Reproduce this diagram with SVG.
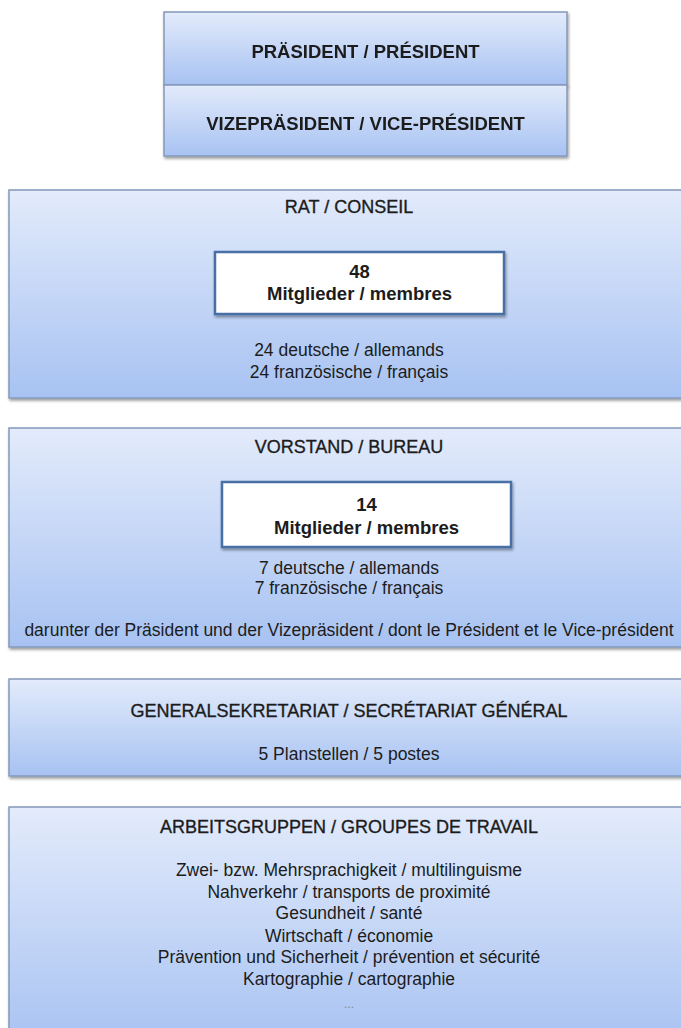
<svg xmlns="http://www.w3.org/2000/svg" width="681" height="1028" viewBox="0 0 681 1028">
<defs>
<linearGradient id="blue" x1="0" y1="0" x2="0" y2="1">
<stop offset="0" stop-color="#e3ebfb"/>
<stop offset="1" stop-color="#a7c2f2"/>
</linearGradient>
<filter id="sh" x="-5%" y="-5%" width="110%" height="120%">
<feGaussianBlur in="SourceAlpha" stdDeviation="1.5"/>
<feOffset dx="1" dy="2"/>
<feComponentTransfer><feFuncA type="linear" slope="0.4"/></feComponentTransfer>
<feMerge><feMergeNode/><feMergeNode in="SourceGraphic"/></feMerge>
</filter>
</defs>
<style>
.box{fill:url(#blue);stroke:#8499bb;stroke-width:1.5}
.inner{fill:#ffffff;stroke:#4a6fa5;stroke-width:2.5}
text{font-family:"Liberation Sans",Arial,sans-serif;fill:#1c1c1c;text-anchor:middle}
.b{font-weight:bold;font-size:18.5px}
.t{font-size:18px;stroke:#1c1c1c;stroke-width:0.35}
.n{font-size:17.5px}
.dots{font-size:12px;fill:#888888}
</style>
<rect width="681" height="1028" fill="#ffffff"/>
<g id="connectors"/>
<g id="president" filter="url(#sh)">
<rect class="box" x="164" y="12" width="403" height="73"/>
<text class="b" x="365.5" y="58">PRÄSIDENT / PRÉSIDENT</text>
</g>
<g id="vicepresident" filter="url(#sh)">
<rect class="box" x="164" y="85" width="403" height="71"/>
<text class="b" x="365.5" y="130">VIZEPRÄSIDENT / VICE-PRÉSIDENT</text>
</g>
<g id="rat">
<rect class="box" x="9" y="190" width="680" height="208" filter="url(#sh)"/>
<text class="t" x="349" y="213">RAT / CONSEIL</text>
<rect class="inner" x="215" y="252" width="289" height="62" filter="url(#sh)"/>
<text class="b" x="359.5" y="278">48</text>
<text class="b" x="359.5" y="300">Mitglieder / membres</text>
<text class="n" x="349" y="356">24 deutsche / allemands</text>
<text class="n" x="349" y="378">24 französische / français</text>
</g>
<g id="vorstand">
<rect class="box" x="9" y="428" width="680" height="219" filter="url(#sh)"/>
<text class="t" x="349" y="453">VORSTAND / BUREAU</text>
<rect class="inner" x="222" y="482" width="289" height="65" filter="url(#sh)"/>
<text class="b" x="366.5" y="511">14</text>
<text class="b" x="366.5" y="534">Mitglieder / membres</text>
<text class="n" x="349" y="574">7 deutsche / allemands</text>
<text class="n" x="349" y="594">7 französische / français</text>
<text class="n" x="349" y="636">darunter der Präsident und der Vizepräsident / dont le Président et le Vice-président</text>
</g>
<g id="generalsekretariat">
<rect class="box" x="9" y="679" width="680" height="97" filter="url(#sh)"/>
<text class="t" x="349" y="717">GENERALSEKRETARIAT / SECRÉTARIAT GÉNÉRAL</text>
<text class="n" x="349" y="760">5 Planstellen / 5 postes</text>
</g>
<g id="arbeitsgruppen">
<rect class="box" x="9" y="807" width="680" height="240" filter="url(#sh)"/>
<text class="t" x="349" y="833">ARBEITSGRUPPEN / GROUPES DE TRAVAIL</text>
<text class="n" x="349" y="876">Zwei- bzw. Mehrsprachigkeit / multilinguisme</text>
<text class="n" x="349" y="898">Nahverkehr / transports de proximité</text>
<text class="n" x="349" y="919">Gesundheit / santé</text>
<text class="n" x="349" y="942">Wirtschaft / économie</text>
<text class="n" x="349" y="963">Prävention und Sicherheit / prévention et sécurité</text>
<text class="n" x="349" y="985">Kartographie / cartographie</text>
<text class="dots" x="349" y="1008">...</text>
</g>
</svg>
